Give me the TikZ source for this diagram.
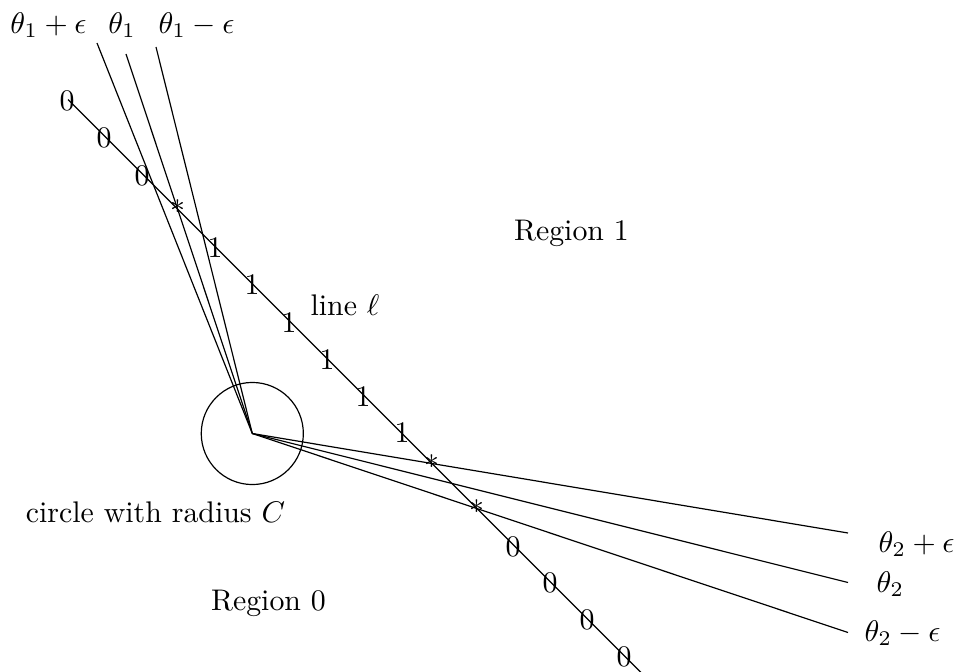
\documentclass[tikz,border=0pt]{standalone}
\usetikzlibrary{intersections}
\begin{document}
\begin{tikzpicture}[x=0.335pt,y=-0.335pt,
  txt/.style={inner sep=0pt, anchor=base},
  txtw/.style={inner sep=0pt, anchor=base west},
  digit/.style={inner sep=0pt},
  starmark/.style={inner sep=0pt, yshift=0.8pt},
  thinline/.style={line width=0.4pt}]
\useasboundingbox (0,0) rectangle (959,671);
\clip (0,0) rectangle (959,671);
% centre and circle
\coordinate (O) at (252.3,433.5);
\node[circle, draw, minimum size=34.2pt, inner sep=0pt] (circ) at (O) {};
% ray ends
\coordinate (a1) at (97,43);
\coordinate (a2) at (126,54);
\coordinate (a3) at (156,47);
\coordinate (b1) at (848,533);
\coordinate (b2) at (848,582.5);
\coordinate (b3) at (848,632.5);
\draw[thinline, name path=ra1] (O) -- (a1);
\draw[thinline, name path=ra2] (O) -- (a2);
\draw[thinline, name path=ra3] (O) -- (a3);
\draw[thinline, name path=rb1] (O) -- (b1);
\draw[thinline, name path=rb2] (O) -- (b2);
\draw[thinline, name path=rb3] (O) -- (b3);
% line ell
\coordinate (l1) at (68,99.5);
\coordinate (l2) at (646,677.5);
\draw[thinline, name path=ell] (l1) -- (l2);
% stars
\path[name intersections={of=ell and ra2, by=s1}];
\path[name intersections={of=ell and rb1, by=s2}];
\path[name intersections={of=ell and rb3, by=s3}];
\node[starmark] (st1) at (s1) {$*$};
\node[starmark] (st2) at (s2) {$*$};
\node[starmark] (st3) at (s3) {$*$};
% digits
\node[digit] (z1) at (67,101) {0};
\node[digit] (z2) at (104,138) {0};
\node[digit] (z3) at (142,176) {0};
\node[digit] (o1) at (215,248) {1};
\node[digit] (o2) at (252,285) {1};
\node[digit] (o3) at (289,323) {1};
\node[digit] (o4) at (327,360) {1};
\node[digit] (o5) at (363,397) {1};
\node[digit] (o6) at (402,433) {1};
\node[digit] (z4) at (513,547) {0};
\node[digit] (z5) at (550,583) {0};
\node[digit] (z6) at (587,620) {0};
\node[digit] (z7) at (624,657) {0};
% labels
\node[txt] (t1) at (48.5,33) {$\theta_1+\epsilon$};
\node[txt] (t2) at (122,33) {$\theta_1$};
\node[txt] (t3) at (196.5,33) {$\theta_1-\epsilon$};
\node[txtw] (u1) at (878,552) {$\theta_2+\epsilon$};
\node[txtw] (u2) at (876,592) {$\theta_2$};
\node[txtw] (u3) at (864,641) {$\theta_2-\epsilon$};
\node[txt] (reg1) at (571.5,240) {Region 1};
\node[txt] (lin) at (345,315) {line $\ell$};
\node[txt] (circlab) at (155.5,522) {circle with radius $C$};
\node[txt] (reg0) at (268.5,610) {Region 0};
\end{tikzpicture}
\end{document}
